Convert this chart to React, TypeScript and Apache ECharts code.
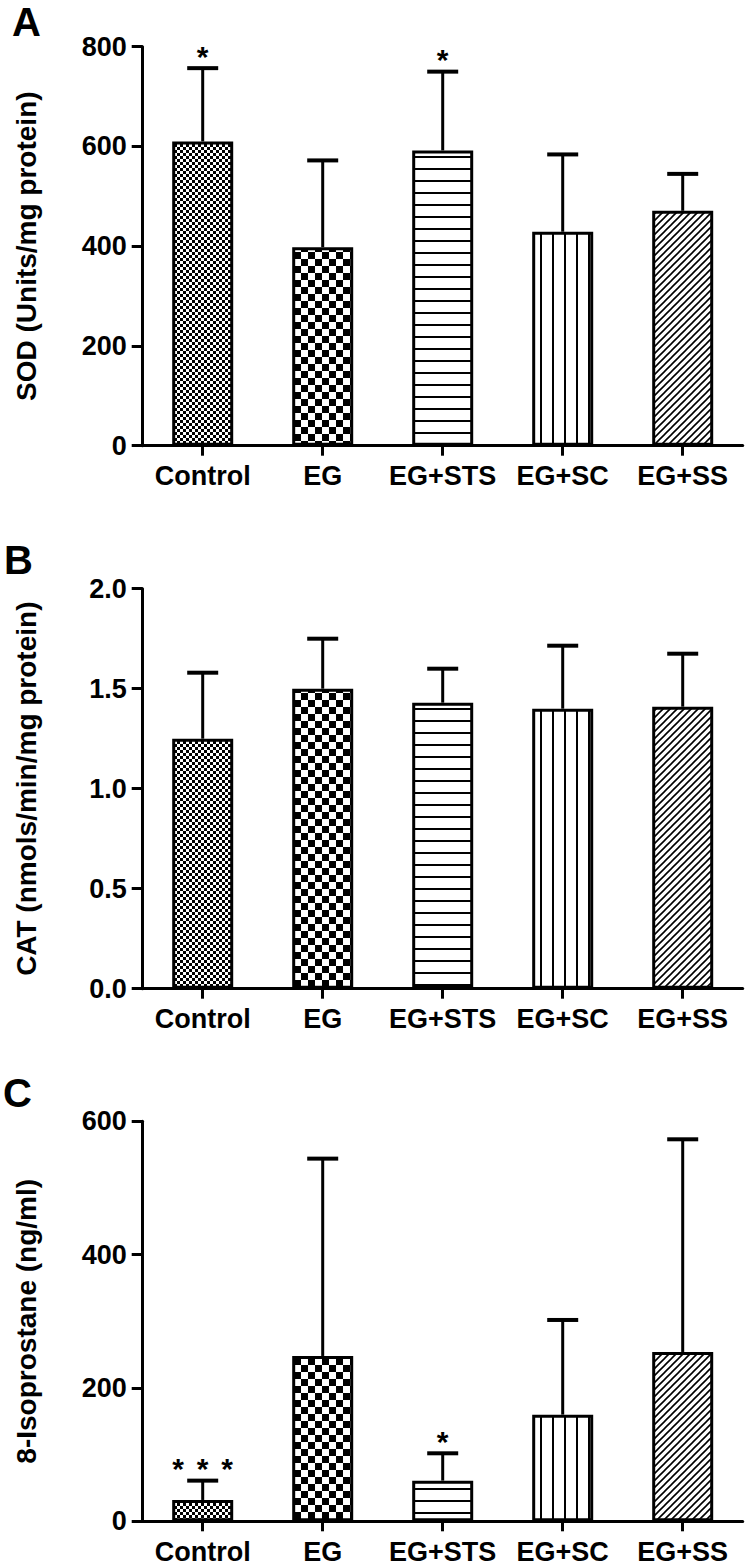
import React, { useEffect, useRef } from "react";
import * as echarts from "echarts";

const categories = ["Control", "EG", "EG+STS", "EG+SC", "EG+SS"];

const sodMean = [610, 398, 592, 429, 471];
const sodErr = [147, 174, 158, 155, 74];
const sodSig = ["*", "", "*", "", ""];
const sodTicks = { min: 0, max: 800, interval: 200 };

const catMean = [1.25, 1.5, 1.43, 1.4, 1.41];
const catErr = [0.33, 0.25, 0.17, 0.315, 0.265];
const catSig = ["", "", "", "", ""];
const catTicks = { min: 0, max: 2, interval: 0.5 };

const isoMean = [32, 248, 61, 160, 254];
const isoErr = [29, 296, 41, 142, 319];
const isoSig = ["***", "", "*", "", ""];
const isoTicks = { min: 0, max: 600, interval: 200 };

const panelLetters = ["A", "B", "C"];
const axisTitles = [
  "SOD (Units/mg protein)",
  "CAT (nmols/min/mg protein)",
  "8-Isoprostane (ng/ml)",
];

const FONT = '"Liberation Sans", Arial, Helvetica, sans-serif';

function makePattern(kind: string) {
  const c = document.createElement("canvas");
  let w = 6;
  let h = 6;
  if (kind === "coarse") { w = 14; h = 14; }
  if (kind === "h" || kind === "v") { w = 12; h = 12; }
  if (kind === "diag") { w = 7; h = 7; }
  c.width = w;
  c.height = h;
  const ctx = c.getContext("2d")!;
  ctx.fillStyle = "#fff";
  ctx.fillRect(0, 0, w, h);
  ctx.fillStyle = "#000";
  ctx.strokeStyle = "#000";
  if (kind === "fine") {
    ctx.fillRect(0, 0, 3, 3);
    ctx.fillRect(3, 3, 3, 3);
  } else if (kind === "coarse") {
    ctx.fillRect(0, 0, 7, 7);
    ctx.fillRect(7, 7, 7, 7);
  } else if (kind === "h") {
    ctx.fillRect(0, 0, 12, 2);
  } else if (kind === "v") {
    ctx.fillRect(0, 0, 2, 12);
  } else if (kind === "diag") {
    ctx.lineWidth = 1.6;
    ctx.beginPath();
    ctx.moveTo(-1, 8);
    ctx.lineTo(8, -1);
    ctx.moveTo(-1, 1);
    ctx.lineTo(1, -1);
    ctx.moveTo(6, 8);
    ctx.lineTo(8, 6);
    ctx.stroke();
  }
  return { image: c.toDataURL(), imageWidth: w, imageHeight: h, repeat: "repeat" };
}

export default function App() {
  const ref = useRef<HTMLDivElement>(null);

  useEffect(() => {
    document.body.style.margin = "0";
    if (!ref.current) return;
    const chart = echarts.init(ref.current, null, { renderer: "svg" });

    const patterns = ["fine", "coarse", "h", "v", "diag"].map(makePattern);

    const grids = [
      { left: 142.7, top: 46.7, width: 600, height: 399 },
      { left: 142.7, top: 588.7, width: 600, height: 400 },
      { left: 142.7, top: 1121.3, width: 600, height: 400 },
    ];
    const ticks = [sodTicks, catTicks, isoTicks];
    const means = [sodMean, catMean, isoMean];
    const errs = [sodErr, catErr, isoErr];
    const sigs = [sodSig, catSig, isoSig];

    const axisLine = { show: true, lineStyle: { color: "#000", width: 3 } };

    const xAxis = grids.map((_, i) => ({
      type: "category",
      gridIndex: i,
      data: categories,
      axisLine: { ...axisLine, onZero: false },
      axisTick: { show: true, alignWithLabel: true, length: 10, lineStyle: { color: "#000", width: 3 } },
      axisLabel: { color: "#000", fontFamily: FONT, fontWeight: "bold", fontSize: 27, margin: 17, interval: 0 },
    }));

    const yAxis = grids.map((_, i) => ({
      type: "value",
      gridIndex: i,
      min: ticks[i].min,
      max: ticks[i].max,
      interval: ticks[i].interval,
      name: axisTitles[i],
      nameLocation: "middle",
      nameRotate: 90,
      nameGap: 102,
      nameTextStyle: { color: "#000", fontFamily: FONT, fontWeight: "bold", fontSize: 28 },
      axisLine,
      axisTick: { show: true, length: 11, lineStyle: { color: "#000", width: 3 } },
      splitLine: { show: false },
      axisLabel: {
        color: "#000",
        fontFamily: FONT,
        fontWeight: "bold",
        fontSize: 27,
        margin: 16,
        formatter: i === 1 ? (v: number) => v.toFixed(1) : (v: number) => String(v),
      },
    }));

    const barSeries = grids.map((_, i) => ({
      type: "bar",
      xAxisIndex: i,
      yAxisIndex: i,
      barWidth: 61,
      z: 2,
      data: means[i].map((v, k) => ({
        value: v,
        itemStyle: { color: patterns[k], borderColor: "#000", borderWidth: 3 },
      })),
    }));

    const errSeries = grids.map((_, i) => ({
      type: "custom",
      xAxisIndex: i,
      yAxisIndex: i,
      z: 3,
      data: means[i].map((m, k) => [k, m, m + errs[i][k]]),
      encode: { x: 0, y: [1, 2] },
      renderItem: (params: any, api: any) => {
        const k = api.value(0);
        const p0 = api.coord([k, api.value(1)]);
        const p1 = api.coord([k, api.value(2)]);
        const children: any[] = [
          { type: "line", shape: { x1: p0[0], y1: p0[1], x2: p0[0], y2: p1[1] }, style: { stroke: "#000", lineWidth: 3 } },
          { type: "line", shape: { x1: p0[0] - 15.5, y1: p1[1], x2: p0[0] + 15.5, y2: p1[1] }, style: { stroke: "#000", lineWidth: 4 } },
        ];
        const s = sigs[i][params.dataIndex] || "";
        const n = s.length;
        for (let j = 0; j < n; j++) {
          children.push({
            type: "text",
            x: p0[0] + (j - (n - 1) / 2) * 24.5,
            y: p1[1] - 12,
            style: {
              text: "*",
              fill: "#000",
              fontFamily: FONT,
              fontWeight: "bold",
              fontSize: 30,
              align: "center",
              verticalAlign: "middle",
            },
          });
        }
        return { type: "group", children };
      },
    }));

    const letterPos = [
      { x: 12, y: 22 },
      { x: 4, y: 560 },
      { x: 3, y: 1093 },
    ];

    chart.setOption({
      animation: false,
      backgroundColor: "#fff",
      grid: grids,
      xAxis,
      yAxis,
      series: [...barSeries, ...errSeries],
      graphic: panelLetters.map((t, i) => ({
        type: "text",
        x: letterPos[i].x,
        y: letterPos[i].y,
        style: {
          text: t,
          fill: "#000",
          fontFamily: FONT,
          fontWeight: "bold",
          fontSize: 40,
          align: "left",
          verticalAlign: "middle",
        },
      })),
    });

    return () => chart.dispose();
  }, []);

  return <div ref={ref} style={{ width: 750, height: 1566 }} />;
}
